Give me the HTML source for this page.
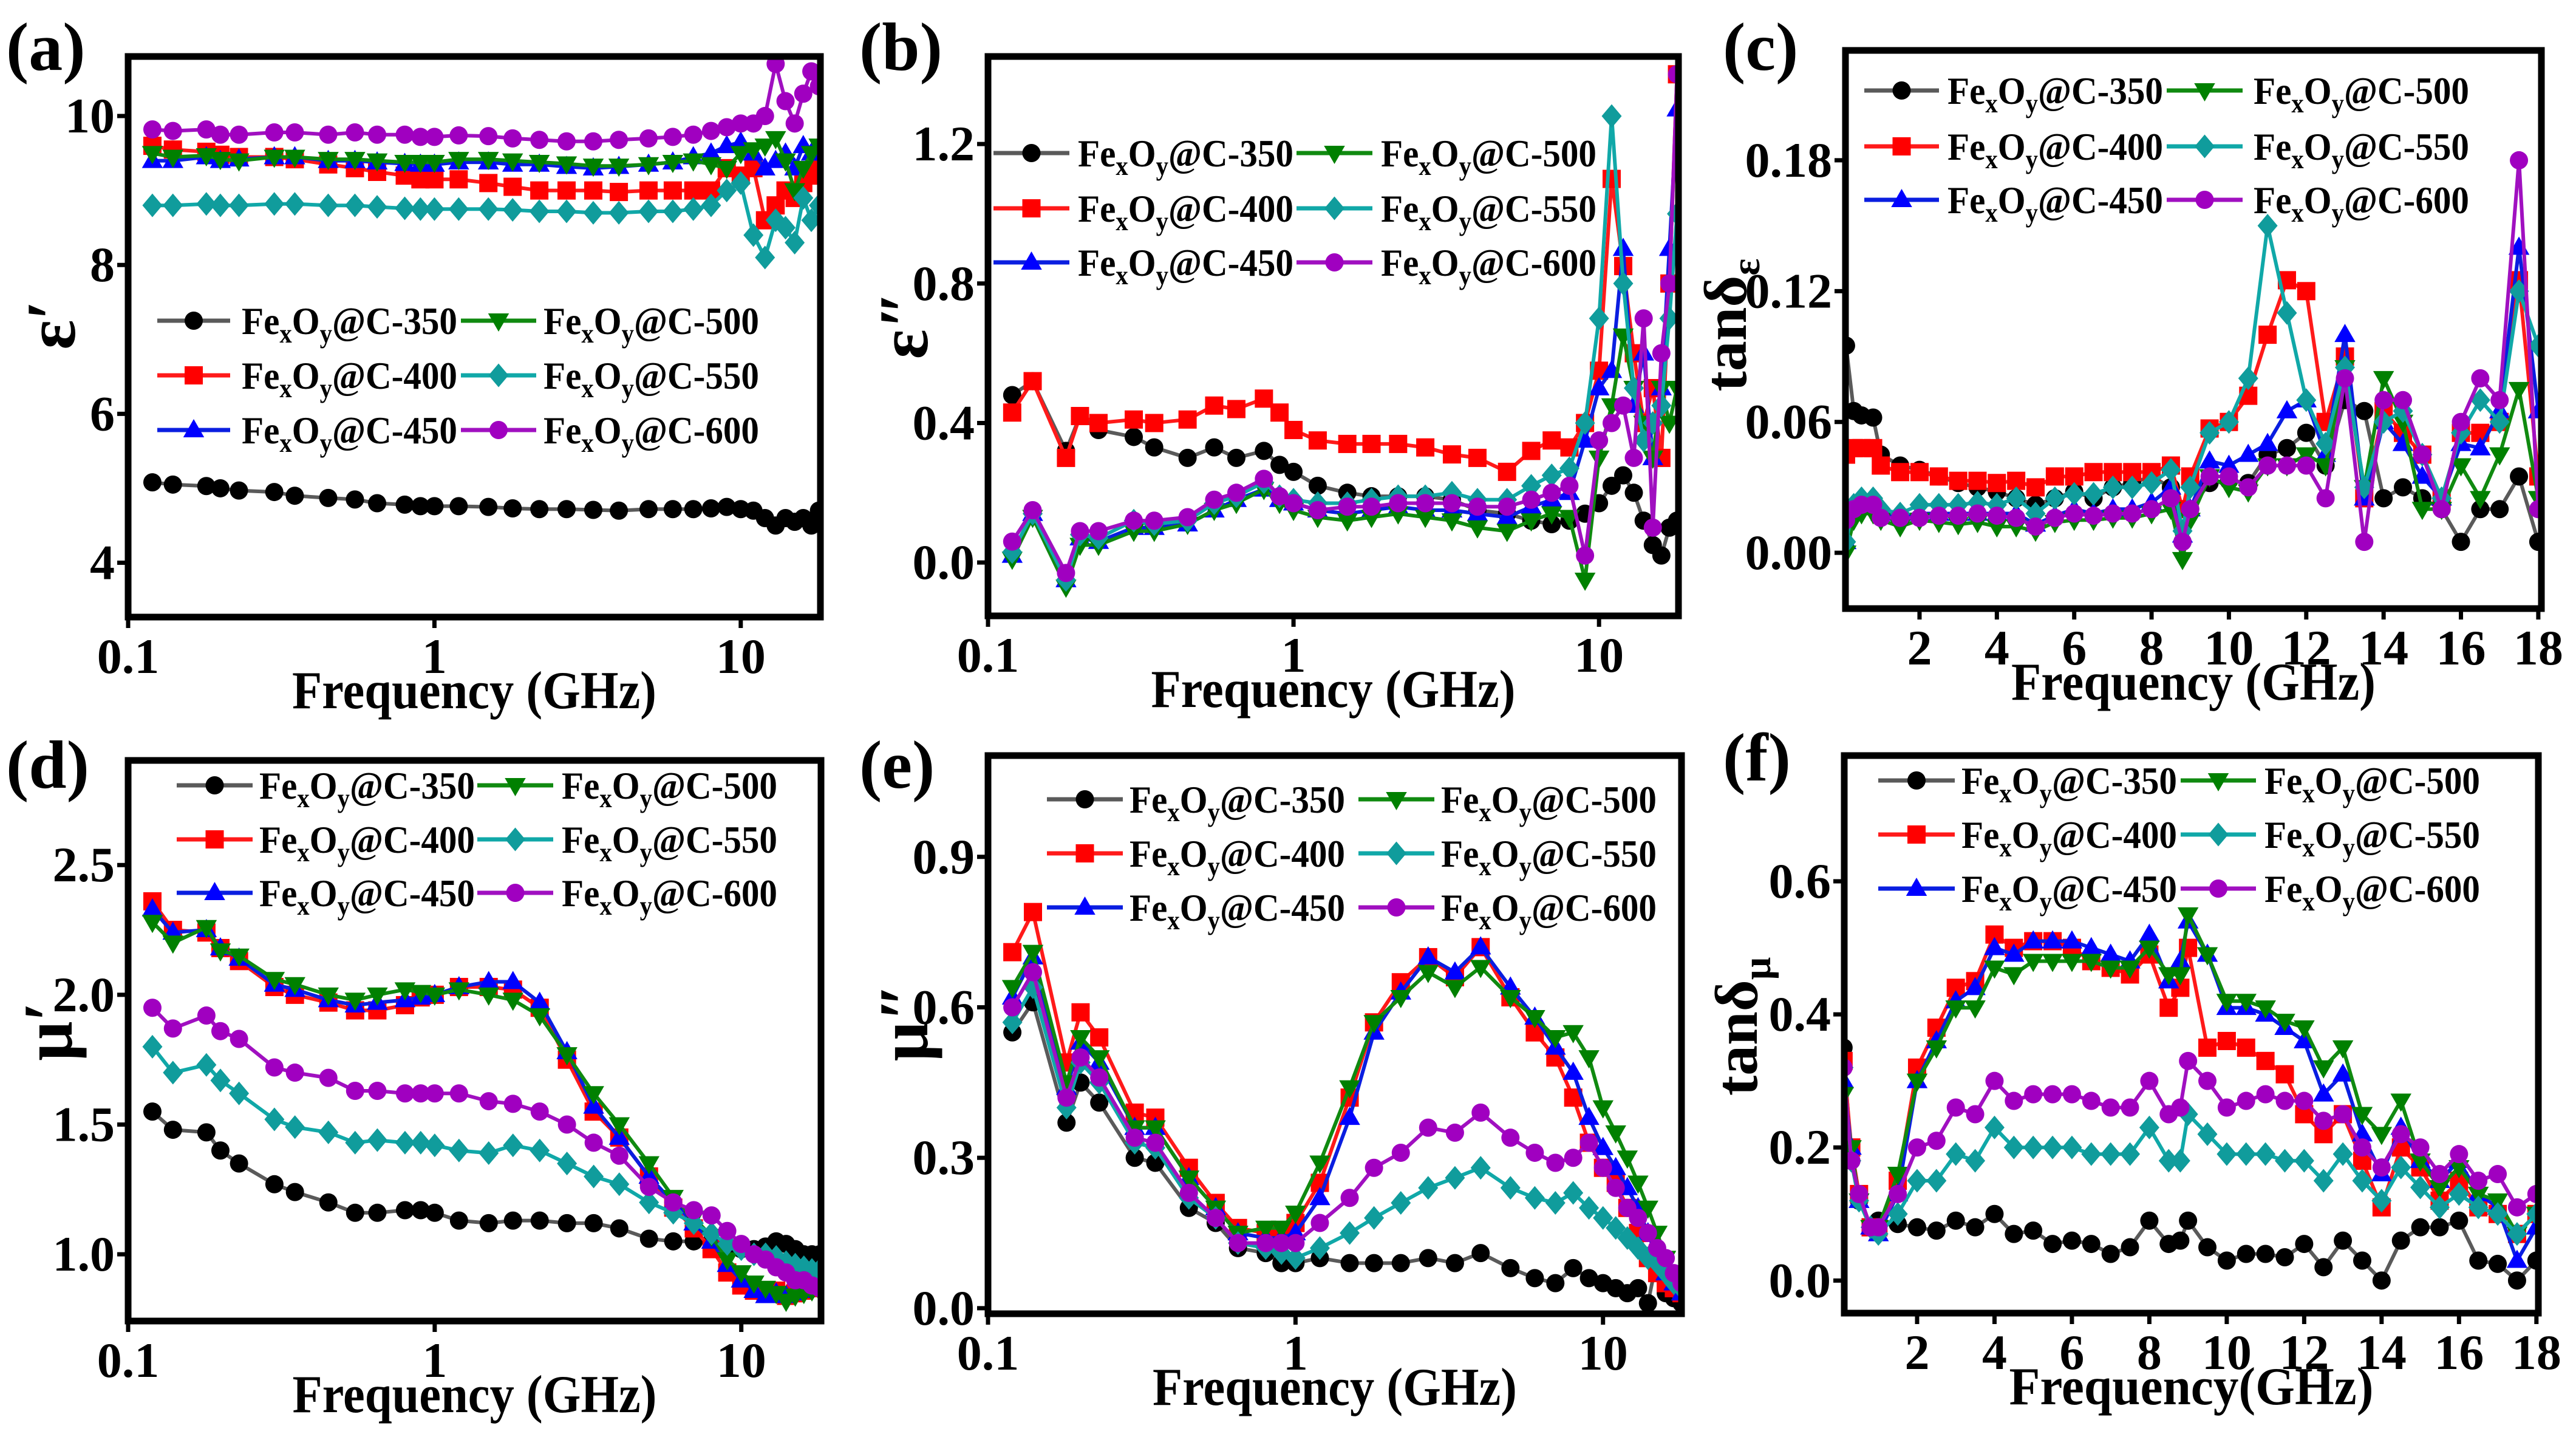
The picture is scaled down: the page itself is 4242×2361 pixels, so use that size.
<!DOCTYPE html>
<html><head><meta charset="utf-8"><style>
html,body{margin:0;padding:0;background:#fff;}
svg{display:block;}
text{font-family:"Liberation Serif",serif;font-weight:bold;fill:#000;}
</style></head>
<body>
<svg id="fig" xmlns="http://www.w3.org/2000/svg" width="4242" height="2361" viewBox="0 0 4242 2361"></svg>
<script>
const logF = [0.12,0.14,0.18,0.2,0.23,0.3,0.35,0.45,0.55,0.65,0.8,0.9,1,1.2,1.5,1.8,2.2,2.7,3.3,4,5,6,7,8,9,10,11,12,13,14,15,16,17,18];
const linF = [0.1,0.3,0.5,0.8,1,1.5,2,2.5,3,3.5,4,4.5,5,5.5,6,6.5,7,7.5,8,8.5,8.8,9,9.5,10,10.5,11,11.5,12,12.5,13,13.5,14,14.5,15,15.5,16,16.5,17,17.5,18];
const seriesNames = ["350","400","450","500","550","600"];
const logTicks = [0.1,1,10];
const logTickLabels = ["0.1","1","10"];
const linTicks = [2,4,6,8,10,12,14,16,18];
const linTickLabels = ["2","4","6","8","10","12","14","16","18"];

const aTicks = [4,6,8,10];
const a350 = [5.08,5.05,5.03,5.0,4.97,4.95,4.9,4.87,4.85,4.8,4.78,4.76,4.76,4.76,4.75,4.73,4.72,4.72,4.71,4.70,4.72,4.72,4.72,4.73,4.75,4.72,4.7,4.6,4.5,4.6,4.55,4.6,4.5,4.7];
const a400 = [9.6,9.55,9.52,9.48,9.45,9.45,9.42,9.35,9.3,9.25,9.2,9.15,9.15,9.15,9.1,9.05,9.0,9.0,9.0,8.98,9.0,9.0,9.0,9.0,9.3,9.2,9.3,8.6,8.8,9.0,8.9,9.1,9.2,9.3];
const a450 = [9.4,9.4,9.45,9.4,9.42,9.45,9.45,9.4,9.4,9.38,9.36,9.35,9.35,9.38,9.38,9.35,9.35,9.32,9.3,9.32,9.35,9.38,9.45,9.5,9.6,9.65,9.5,9.3,9.4,9.5,9.3,9.6,9.5,9.5];
const a500 = [9.5,9.45,9.47,9.42,9.4,9.45,9.45,9.42,9.42,9.4,9.38,9.38,9.38,9.42,9.42,9.4,9.38,9.36,9.33,9.33,9.35,9.38,9.4,9.35,9.3,9.5,9.55,9.6,9.7,9.4,9.0,9.3,9.5,9.6];
const a550 = [8.8,8.8,8.82,8.8,8.8,8.82,8.82,8.8,8.8,8.78,8.76,8.75,8.75,8.75,8.75,8.74,8.72,8.72,8.7,8.7,8.72,8.72,8.75,8.8,9.0,9.1,8.4,8.1,8.6,8.5,8.3,8.9,8.6,8.8];
const a600 = [9.82,9.8,9.82,9.75,9.75,9.78,9.78,9.75,9.78,9.75,9.75,9.72,9.72,9.74,9.73,9.7,9.68,9.66,9.66,9.68,9.7,9.72,9.75,9.8,9.85,9.9,9.9,10.0,10.7,10.2,9.9,10.3,10.6,10.4];

const bTicks = [0,0.4,0.8,1.2];
const b350 = [0.48,0.52,0.32,0.42,0.38,0.36,0.33,0.30,0.33,0.30,0.32,0.28,0.26,0.22,0.20,0.19,0.19,0.19,0.18,0.15,0.14,0.12,0.11,0.12,0.14,0.17,0.22,0.25,0.20,0.12,0.05,0.02,0.1,0.12];
const b400 = [0.43,0.52,0.30,0.42,0.40,0.41,0.40,0.41,0.45,0.44,0.47,0.43,0.38,0.35,0.34,0.34,0.34,0.33,0.31,0.30,0.26,0.32,0.35,0.33,0.40,0.55,1.1,0.85,0.6,0.4,0.5,0.3,0.8,1.4];
const b450 = [0.02,0.14,-0.05,0.07,0.06,0.10,0.10,0.11,0.15,0.18,0.21,0.18,0.17,0.15,0.14,0.15,0.16,0.15,0.15,0.14,0.13,0.16,0.18,0.20,0.35,0.50,0.55,0.9,0.45,0.6,0.3,0.5,0.9,1.3];
const b500 = [0.01,0.13,-0.07,0.05,0.05,0.09,0.09,0.11,0.15,0.17,0.21,0.17,0.15,0.13,0.12,0.13,0.14,0.13,0.12,0.10,0.09,0.12,0.14,0.13,-0.05,0.3,0.45,0.65,0.5,0.4,0.3,0.5,0.4,0.5];
const b550 = [0.03,0.14,-0.05,0.08,0.07,0.12,0.11,0.12,0.17,0.19,0.23,0.19,0.18,0.17,0.17,0.18,0.19,0.19,0.2,0.18,0.18,0.22,0.25,0.27,0.40,0.70,1.28,0.8,0.5,0.35,0.4,0.45,0.7,1.0];
const b600 = [0.06,0.15,-0.03,0.09,0.09,0.12,0.12,0.13,0.18,0.2,0.24,0.19,0.17,0.15,0.16,0.16,0.17,0.17,0.17,0.16,0.16,0.18,0.2,0.22,0.02,0.35,0.4,0.45,0.3,0.7,0.1,0.6,0.8,1.4];

const cTicks = [0,0.06,0.12,0.18];
const c350 = [0.095,0.065,0.063,0.062,0.045,0.040,0.038,0.035,0.032,0.030,0.028,0.025,0.022,0.025,0.028,0.025,0.03,0.032,0.035,0.03,0.005,0.02,0.032,0.033,0.032,0.045,0.048,0.055,0.04,0.07,0.065,0.025,0.03,0.025,0.02,0.005,0.02,0.02,0.035,0.005];
const c400 = [0.045,0.048,0.048,0.048,0.040,0.037,0.037,0.035,0.033,0.033,0.032,0.033,0.03,0.035,0.035,0.037,0.037,0.037,0.037,0.04,0.02,0.035,0.057,0.06,0.072,0.1,0.125,0.12,0.06,0.09,0.025,0.065,0.055,0.045,0.025,0.055,0.055,0.06,0.125,0.035];
const c450 = [0.005,0.02,0.022,0.022,0.018,0.017,0.018,0.018,0.018,0.018,0.018,0.018,0.013,0.017,0.02,0.018,0.02,0.02,0.023,0.03,0.008,0.02,0.042,0.04,0.045,0.05,0.065,0.07,0.045,0.1,0.025,0.06,0.05,0.035,0.025,0.05,0.048,0.065,0.14,0.065];
const c500 = [0.0,0.015,0.018,0.018,0.015,0.012,0.015,0.014,0.013,0.014,0.012,0.012,0.01,0.014,0.015,0.015,0.016,0.016,0.018,0.02,-0.003,0.015,0.035,0.03,0.028,0.04,0.04,0.045,0.04,0.085,0.03,0.08,0.06,0.02,0.02,0.04,0.025,0.045,0.075,0.025];
const c550 = [0.005,0.022,0.025,0.025,0.02,0.018,0.022,0.022,0.022,0.023,0.022,0.025,0.018,0.025,0.027,0.027,0.03,0.03,0.032,0.038,0.01,0.03,0.055,0.06,0.08,0.15,0.11,0.07,0.05,0.085,0.03,0.06,0.065,0.045,0.025,0.055,0.07,0.06,0.12,0.095];
const c600 = [0.015,0.02,0.022,0.022,0.016,0.016,0.016,0.017,0.017,0.018,0.017,0.016,0.012,0.016,0.018,0.017,0.018,0.018,0.02,0.025,0.005,0.02,0.035,0.035,0.03,0.04,0.04,0.04,0.025,0.08,0.005,0.07,0.07,0.045,0.02,0.06,0.08,0.07,0.18,0.02];

const dTicks = [1.0,1.5,2.0,2.5];
const d350 = [1.55,1.48,1.47,1.40,1.35,1.27,1.24,1.20,1.16,1.16,1.17,1.17,1.16,1.13,1.12,1.13,1.13,1.12,1.12,1.10,1.06,1.05,1.05,1.05,1.03,1.02,1.02,1.03,1.05,1.04,1.02,1.0,1.0,1.0];
const d400 = [2.36,2.25,2.24,2.18,2.13,2.03,2.0,1.97,1.94,1.94,1.96,1.99,2.0,2.03,2.03,2.02,1.95,1.75,1.55,1.45,1.30,1.18,1.10,1.02,0.93,0.88,0.86,0.85,0.86,0.84,0.85,0.86,0.87,0.87];
const d450 = [2.33,2.24,2.25,2.18,2.14,2.04,2.02,1.98,1.96,1.97,1.98,1.99,2.0,2.03,2.05,2.05,1.97,1.78,1.57,1.45,1.30,1.20,1.12,1.05,0.96,0.90,0.86,0.84,0.85,0.84,0.85,0.86,0.87,0.87];
const d500 = [2.28,2.20,2.26,2.17,2.15,2.06,2.04,2.0,1.98,2.0,2.02,2.01,2.0,2.02,2.0,1.98,1.92,1.77,1.62,1.50,1.35,1.22,1.14,1.07,0.98,0.93,0.89,0.87,0.85,0.82,0.84,0.85,0.86,0.86];
const d550 = [1.80,1.70,1.73,1.67,1.62,1.52,1.49,1.47,1.43,1.44,1.43,1.43,1.42,1.40,1.39,1.42,1.40,1.35,1.30,1.27,1.20,1.16,1.12,1.08,1.04,1.02,1.0,1.0,0.99,0.97,0.96,0.95,0.94,0.94];
const d600 = [1.95,1.87,1.92,1.86,1.83,1.72,1.70,1.68,1.63,1.63,1.62,1.62,1.62,1.62,1.59,1.58,1.55,1.50,1.43,1.38,1.26,1.20,1.17,1.15,1.09,1.04,1.0,0.98,0.95,0.93,0.90,0.90,0.88,0.87];

const eTicks = [0,0.3,0.6,0.9];
const e350 = [0.55,0.61,0.37,0.45,0.41,0.30,0.29,0.20,0.17,0.12,0.11,0.09,0.09,0.1,0.09,0.09,0.09,0.1,0.09,0.11,0.08,0.06,0.05,0.08,0.06,0.05,0.04,0.03,0.04,0.01,0.1,0.03,0.02,0.01];
const e400 = [0.71,0.79,0.49,0.59,0.54,0.39,0.38,0.28,0.21,0.16,0.15,0.15,0.17,0.25,0.42,0.57,0.65,0.70,0.66,0.72,0.62,0.55,0.50,0.42,0.33,0.28,0.25,0.20,0.15,0.10,0.07,0.05,0.04,0.03];
const e450 = [0.62,0.70,0.44,0.53,0.49,0.36,0.36,0.26,0.20,0.15,0.14,0.14,0.15,0.22,0.38,0.55,0.63,0.70,0.67,0.72,0.64,0.58,0.52,0.47,0.38,0.32,0.28,0.24,0.2,0.15,0.1,0.07,0.05,0.03];
const e500 = [0.64,0.71,0.45,0.54,0.50,0.36,0.36,0.26,0.20,0.15,0.16,0.16,0.19,0.29,0.44,0.57,0.62,0.67,0.64,0.68,0.62,0.58,0.54,0.55,0.5,0.4,0.35,0.3,0.25,0.2,0.15,0.1,0.07,0.05];
const e550 = [0.57,0.64,0.40,0.49,0.45,0.33,0.32,0.22,0.18,0.13,0.12,0.11,0.10,0.12,0.15,0.18,0.21,0.24,0.26,0.28,0.24,0.22,0.21,0.23,0.20,0.18,0.16,0.14,0.12,0.10,0.09,0.07,0.05,0.04];
const e600 = [0.60,0.67,0.42,0.50,0.46,0.34,0.33,0.23,0.18,0.13,0.13,0.13,0.13,0.17,0.22,0.28,0.31,0.36,0.35,0.39,0.34,0.31,0.29,0.30,0.33,0.28,0.24,0.2,0.18,0.15,0.12,0.1,0.07,0.05];

const fTicks = [0,0.2,0.4,0.6];
const f350 = [0.35,0.18,0.12,0.08,0.09,0.085,0.08,0.075,0.09,0.08,0.1,0.07,0.075,0.055,0.06,0.055,0.04,0.05,0.09,0.055,0.06,0.09,0.05,0.03,0.04,0.04,0.035,0.055,0.02,0.06,0.03,0.0,0.06,0.08,0.08,0.09,0.03,0.025,0.0,0.03];
const f400 = [0.33,0.2,0.13,0.08,0.08,0.15,0.32,0.38,0.44,0.45,0.52,0.5,0.51,0.51,0.50,0.48,0.47,0.46,0.49,0.41,0.44,0.5,0.35,0.36,0.35,0.33,0.31,0.25,0.22,0.25,0.18,0.11,0.20,0.17,0.12,0.15,0.11,0.10,0.07,0.1];
const f450 = [0.3,0.2,0.12,0.08,0.07,0.13,0.3,0.36,0.42,0.44,0.5,0.49,0.51,0.51,0.51,0.5,0.49,0.48,0.52,0.45,0.48,0.54,0.49,0.41,0.41,0.40,0.38,0.36,0.28,0.31,0.22,0.16,0.23,0.18,0.15,0.18,0.13,0.11,0.03,0.08];
const f500 = [0.28,0.2,0.12,0.08,0.08,0.16,0.3,0.35,0.41,0.41,0.47,0.46,0.48,0.48,0.48,0.48,0.47,0.47,0.5,0.46,0.46,0.55,0.49,0.42,0.42,0.41,0.39,0.38,0.32,0.35,0.25,0.22,0.27,0.18,0.14,0.17,0.13,0.12,0.07,0.1];
const f550 = [0.32,0.18,0.12,0.08,0.07,0.1,0.15,0.15,0.19,0.18,0.23,0.2,0.2,0.2,0.2,0.19,0.19,0.19,0.23,0.18,0.18,0.25,0.22,0.19,0.19,0.19,0.18,0.18,0.15,0.19,0.15,0.12,0.17,0.14,0.11,0.13,0.11,0.10,0.07,0.1];
const f600 = [0.32,0.18,0.13,0.08,0.08,0.13,0.2,0.21,0.26,0.25,0.3,0.27,0.28,0.28,0.28,0.27,0.26,0.26,0.3,0.25,0.26,0.33,0.3,0.26,0.27,0.28,0.27,0.27,0.24,0.25,0.2,0.17,0.22,0.2,0.16,0.19,0.15,0.16,0.11,0.13];

const NS = "http://www.w3.org/2000/svg";
const svg = document.getElementById('fig');
const lineColors = ["#5a5a5a","#ff1a1a","#0a1ee0","#108a10","#10a8a8","#a010c0"];
const markColors = ["#000000","#ff0000","#0000ff","#008000","#109c9c","#a000c0"];
const markTypes = ["circle","square","up","down","diamond","circle"];

function mk(tag, attrs, parent){
  const e = document.createElementNS(NS, tag);
  for (const k in attrs) e.setAttribute(k, attrs[k]);
  (parent||svg).appendChild(e);
  return e;
}
function marker(type, x, y, color, g){
  const s = 15;
  let e;
  if (type==="circle") e = mk('circle',{cx:x,cy:y,r:s,fill:color},g);
  else if (type==="square") e = mk('rect',{x:x-s,y:y-s,width:2*s,height:2*s,fill:color},g);
  else if (type==="up") e = mk('polygon',{points:`${x},${y-s*1.2} ${x-s*1.15},${y+s*0.8} ${x+s*1.15},${y+s*0.8}`,fill:color},g);
  else if (type==="down") e = mk('polygon',{points:`${x},${y+s*1.2} ${x-s*1.15},${y-s*0.8} ${x+s*1.15},${y-s*0.8}`,fill:color},g);
  else e = mk('polygon',{points:`${x},${y-s*1.3} ${x+s*1.1},${y} ${x},${y+s*1.3} ${x-s*1.1},${y}`,fill:color},g);
  return e;
}

const panels = [
 {id:'a',label:'(a)',lx:10,ly:115,box:[211,93,1351,1016],xlog:true,xd:[0.1,18.2],yd:[3.27,10.8],
  yt:aTicks,ytl:["4","6","8","10"],xf:logF,data:[a350,a400,a450,a500,a550,a600],
  yTitle:'ε′',ytx:88,yty:535,xTitle:'Frequency (GHz)',
  leg:{rows:[528,618,708],c1:[259,379,398],c2:[759,883,895]}},
 {id:'b',label:'(b)',lx:1415,ly:115,box:[1627,93,2764,1014],xlog:true,xd:[0.1,18.2],yd:[-0.153,1.451],
  yt:bTicks,ytl:["0.0","0.4","0.8","1.2"],xf:logF,data:[b350,b400,b450,b500,b550,b600],
  yTitle:'ε″',ytx:1492,yty:535,xTitle:'Frequency (GHz)',
  leg:{rows:[252,343,432],c1:[1636,1761,1775],c2:[2135,2260,2274]}},
 {id:'c',label:'(c)',lx:2837,ly:115,box:[3039,83,4185,1002],xlog:false,xd:[0.085,18.08],yd:[-0.0256,0.2304],
  yt:cTicks,ytl:["0.00","0.06","0.12","0.18"],xf:linF,data:[c350,c400,c450,c500,c550,c600],
  yTitle:'tanδ',ysub:'ε',ytx:2865,yty:535,xTitle:'Frequency (GHz)',
  leg:{rows:[149,241,329],c1:[3070,3193,3207],c2:[3568,3693,3711]}},
 {id:'d',label:'(d)',lx:10,ly:1297,box:[211,1252,1352,2175],xlog:true,xd:[0.1,18.2],yd:[0.743,2.903],
  yt:dTicks,ytl:["1.0","1.5","2.0","2.5"],xf:logF,data:[d350,d400,d450,d500,d550,d600],
  yTitle:'μ′',ytx:83,yty:1698,xTitle:'Frequency (GHz)',
  leg:{rows:[1293,1382,1470],c1:[291,416,427],c2:[786,911,925]}},
 {id:'e',label:'(e)',lx:1415,ly:1297,box:[1627,1244,2769,2163],xlog:true,xd:[0.1,18],yd:[-0.011,1.102],
  yt:eTicks,ytl:["0.0","0.3","0.6","0.9"],xf:logF,data:[e350,e400,e450,e500,e550,e600],
  yTitle:'μ″',ytx:1492,yty:1683,xTitle:'Frequency (GHz)',
  leg:{rows:[1316,1405,1494],c1:[1724,1849,1860],c2:[2237,2362,2373]}},
 {id:'f',label:'(f)',lx:2837,ly:1285,box:[3037,1244,4180,2162],xlog:false,xd:[0.118,18.05],yd:[-0.049,0.789],
  yt:fTicks,ytl:["0.0","0.2","0.4","0.6"],xf:linF,data:[f350,f400,f450,f500,f550,f600],
  yTitle:'tanδ',ysub:'μ',ytx:2883,yty:1690,xTitle:'Frequency(GHz)',
  leg:{rows:[1285,1374,1463],c1:[3093,3219,3230],c2:[3591,3715,3729]}}
];

panels.forEach(p=>{
  const [x0,y0,x1,y1] = p.box;
  const xs = v => p.xlog
    ? x0 + (Math.log10(v)-Math.log10(p.xd[0]))/(Math.log10(p.xd[1])-Math.log10(p.xd[0]))*(x1-x0)
    : x0 + (v-p.xd[0])/(p.xd[1]-p.xd[0])*(x1-x0);
  const ys = v => y1 - (v-p.yd[0])/(p.yd[1]-p.yd[0])*(y1-y0);
  const g = mk('g',{});
  
  
  const cp = mk('clipPath',{id:'clip-'+p.id},g);
  mk('rect',{x:x0,y:y0,width:x1-x0,height:y1-y0},cp);

  const sg = mk('g',{'clip-path':`url(#clip-${p.id})`},g);
  p.data.forEach((vals,si)=>{
    const s = mk('g',{},sg);
    
    
    const pts = vals.map((v,i)=>xs(p.xf[i]).toFixed(1)+','+ys(v).toFixed(1)).join(' ');
    mk('polyline',{points:pts,fill:'none',stroke:lineColors[si],'stroke-width':6,'stroke-linejoin':'round'},s);
    vals.forEach((v,i)=>{ marker(markTypes[si], xs(p.xf[i]), ys(v), markColors[si], s); });
  });

  const fr = mk('rect',{x:x0,y:y0,width:x1-x0,height:y1-y0,fill:'none',stroke:'#000','stroke-width':11},g);
  
  

  const xt = p.xlog ? logTicks : linTicks;
  const xtl = p.xlog ? logTickLabels : linTickLabels;
  xt.forEach((v,i)=>{
    const x = xs(v);
    mk('line',{x1:x,y1:y1,x2:x,y2:y1+18,stroke:'#000','stroke-width':7},g);
    const t = mk('text',{x:x,y:y1+92,'text-anchor':'middle','font-size':82},g);
    t.textContent = xtl[i];
    
    
  });
  p.yt.forEach((v,i)=>{
    const y = ys(v);
    mk('line',{x1:x0-18,y1:y,x2:x0,y2:y,stroke:'#000','stroke-width':7},g);
    const t = mk('text',{x:x0-22,y:y+27,'text-anchor':'end','font-size':82},g);
    t.textContent = p.ytl[i];
    
    
  });
  const xtt = mk('text',{x:(x0+x1)/2,y:y1+150,'text-anchor':'middle','font-size':88,textLength:600,lengthAdjust:'spacingAndGlyphs'},g);
  xtt.textContent = p.xTitle;
  
  
  const ytt = mk('text',{x:0,y:0,'text-anchor':'middle','font-size':p.ysub?100:115,transform:`translate(${p.ytx+(p.ysub?10:35)},${p.yty}) rotate(-90)`},g);
  ytt.textContent = p.yTitle;
  if (p.ysub){ const ts = mk('tspan',{'font-size':66,dy:22},ytt); ts.textContent = p.ysub; }
  
  
  const pl = mk('text',{x:p.lx,y:p.ly,'font-size':112},g);
  pl.textContent = p.label;
  
  

  const lg = mk('g',{},g);
  
  
  seriesNames.forEach((nm,si)=>{
    const col = si<3 ? p.leg.c1 : p.leg.c2;
    const y = p.leg.rows[si%3];
    const e = mk('g',{},lg);
    
    
    mk('line',{x1:col[0],y1:y,x2:col[1],y2:y,stroke:lineColors[si],'stroke-width':7},e);
    marker(markTypes[si], (col[0]+col[1])/2, y, markColors[si], e);
    const t = mk('text',{x:col[2],y:y+22,'font-size':64,textLength:355,lengthAdjust:'spacingAndGlyphs'},e);
    const a = mk('tspan',{},t); a.textContent='Fe';
    const b = mk('tspan',{'font-size':44,dy:14},t); b.textContent='x';
    const c = mk('tspan',{dy:-14},t); c.textContent='O';
    const d = mk('tspan',{'font-size':44,dy:14},t); d.textContent='y';
    const e2 = mk('tspan',{dy:-14},t); e2.textContent='@C-'+nm;
  });
});
</script>
</body></html>
